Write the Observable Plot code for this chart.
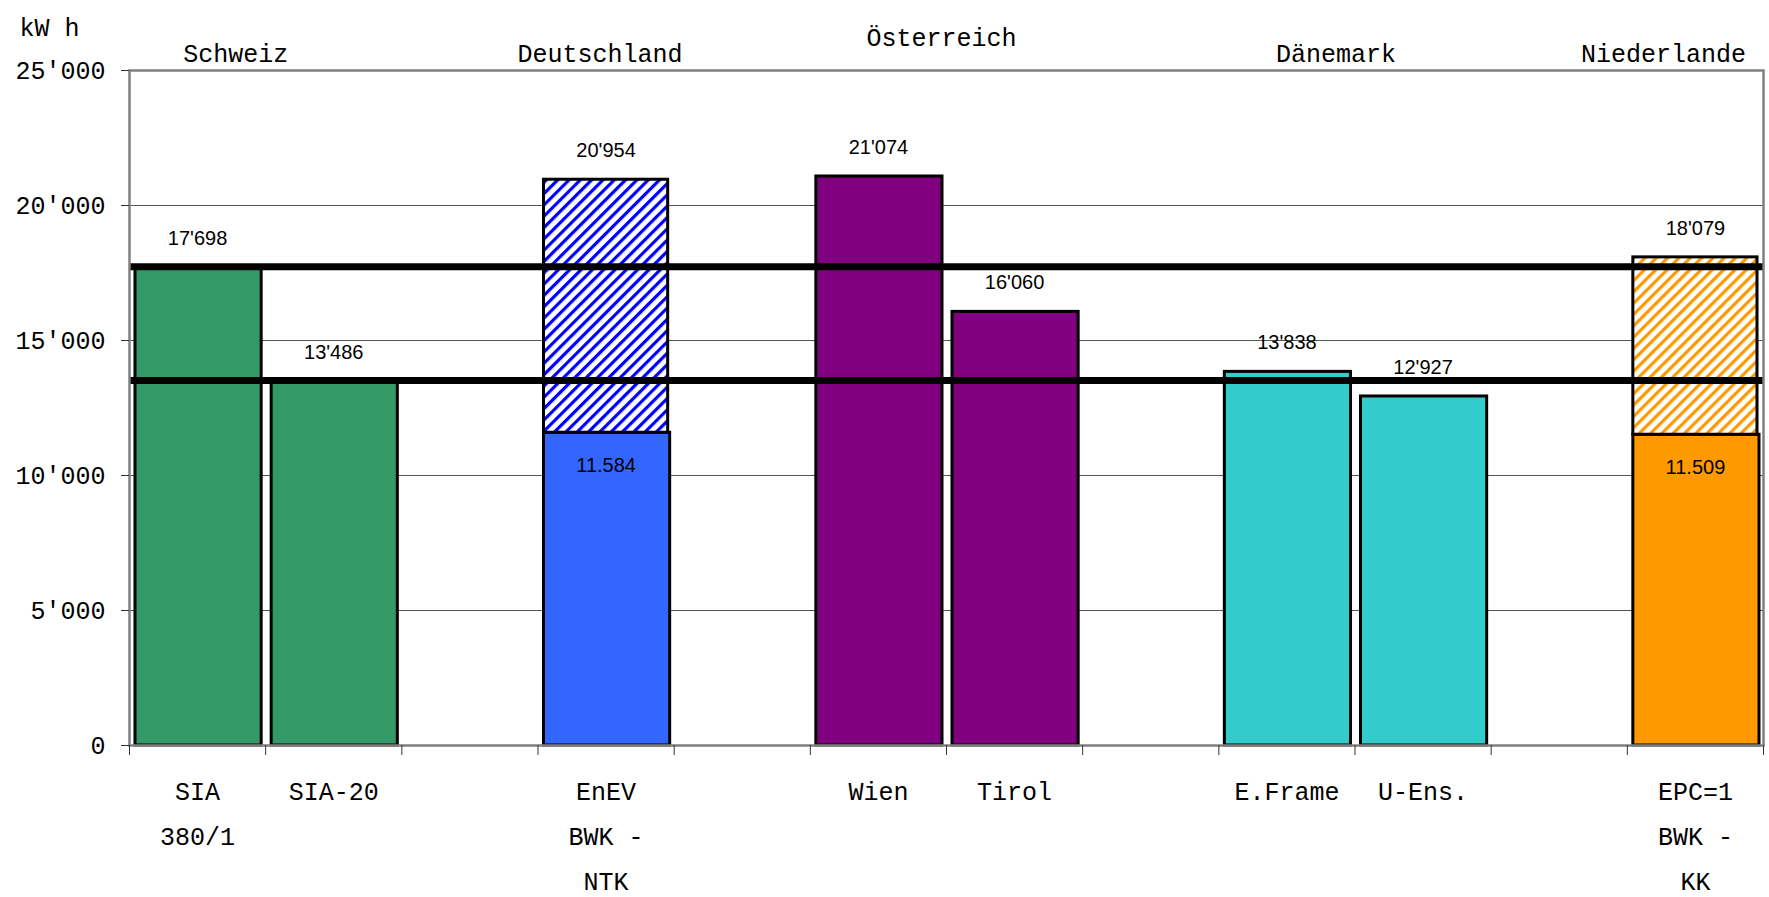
<!DOCTYPE html>
<html><head><meta charset="utf-8">
<script src="https://cdn.jsdelivr.net/npm/d3@7"></script>
<script src="https://cdn.jsdelivr.net/npm/@observablehq/plot@0.6"></script>
<style>html,body{margin:0;padding:0;background:#fff;overflow:hidden;}</style>
</head><body><div id="chart"></div>
<script>
// ---- data ----
const categories = ["SIA\n380/1", "SIA-20", "", "EnEV\nBWK -\nNTK", "", "Wien", "Tirol", "", "E.Frame", "U-Ens.", "", "EPC=1\nBWK -\nKK"];
const countryOf  = ["Schweiz", "Schweiz", null, "Deutschland", null, "Österreich", "Österreich", null, "Dänemark", "Dänemark", null, "Niederlande"];
const totals     = [17698, 13486, null, 20954, null, 21074, 16060, null, 13838, 12927, null, 18079];
const solidParts = [17698, 13486, null, 11584, null, 21074, 16060, null, 13838, 12927, null, 11509];
const countries  = ["Schweiz", "Deutschland", "Österreich", "Dänemark", "Niederlande"];
const referenceValues = [17698, 13486];
const yTicks = [0, 5000, 10000, 15000, 20000, 25000];
const yUnit = "kW h";

// ---- styles ----
const countryColors = ["#339966", "#3366FF", "#800080", "#33CCCC", "#FF9900"];
const hatchColors = {"Deutschland": "#0000FF", "Niederlande": "#FF9900"};
const countryDx = {"Schweiz": -30, "Deutschland": -6, "Österreich": -5, "Dänemark": -19, "Niederlande": -32};
const countryDy = {"Schweiz": -17, "Deutschland": -17, "Österreich": -33, "Dänemark": -17, "Niederlande": -17};
const mono = "'Liberation Mono', 'DejaVu Sans Mono', monospace";
const sans = "'Liberation Sans', Arial, sans-serif";

const fmtApos = d3.formatLocale({decimal: ".", thousands: "'", grouping: [3], currency: ["", ""]}).format(",d");
const fmtDot = d3.formatLocale({decimal: ",", thousands: ".", grouping: [3], currency: ["", ""]}).format(",d");

const rows = categories.map((cat, i) => ({i, cat, country: countryOf[i], total: totals[i], solid: solidParts[i]}))
  .filter(d => d.total != null);
const hatched = rows.filter(d => d.total > d.solid);

const groups = countries.map(c => {
  const idx = rows.filter(d => d.country === c).map(d => d.i);
  return {country: c, center: (d3.min(idx) + d3.max(idx) + 1) / 2};
});

const hatchMarks = hatched.map(d => Plot.rectY([d], {
  x1: r => r.i, x2: r => r.i + 1, y1: "solid", y2: "total",
  fill: `url(#hatch-${countries.indexOf(d.country)})`,
  stroke: "black", strokeWidth: 3, insetLeft: 6, insetRight: 6
}));

const countryMarks = groups.map(g => Plot.text([g], {
  x: "center", y: () => 25000, text: "country",
  dx: countryDx[g.country], dy: countryDy[g.country],
  fontFamily: mono, fontSize: 25, fill: "black"
}));

const chart = Plot.plot({
  width: 1769, height: 897,
  marginLeft: 129, marginRight: 6, marginTop: 70, marginBottom: 152,
  style: {background: "white", color: "black", overflow: "visible"},
  x: {domain: [0, categories.length], axis: null},
  y: {domain: [0, 25000], axis: null},
  color: {domain: countries, range: countryColors},
  marks: [
    Plot.gridY(yTicks.filter(v => v > 0 && v < 25000), {stroke: "#555", strokeOpacity: 1, strokeWidth: 1}),
    Plot.rectY(rows, {
      x1: d => d.i, x2: d => d.i + 1, y1: 0, y2: "solid",
      fill: "country", stroke: "black", strokeWidth: 3, insetLeft: 6, insetRight: 4
    }),
    ...hatchMarks,
    Plot.ruleY(referenceValues, {stroke: "black", strokeWidth: 7, dy: -1}),
    Plot.frame({stroke: "#808080", strokeWidth: 2.5}),
    Plot.axisX({ticks: d3.range(categories.length + 1), tickSize: 10, tickFormat: () => "", stroke: "#333", label: null}),
    Plot.axisY({ticks: yTicks, tickSize: 8, tickPadding: 16, tickFormat: fmtApos, stroke: "#333",
      fontFamily: mono, fontSize: 25, fill: "black", label: null}),
    Plot.text(rows, {x: d => d.i + 0.5, y: () => 0, text: "cat", lineAnchor: "top", dy: 23, lineHeight: 1.8,
      fontFamily: mono, fontSize: 25, fill: "black"}),
    Plot.text(rows, {x: d => d.i + 0.5, y: "total", text: d => fmtApos(d.total), dy: -29,
      fontFamily: sans, fontSize: 20, fill: "black"}),
    Plot.text(hatched, {x: d => d.i + 0.5, y: "solid", text: d => fmtDot(d.solid), dy: 33,
      fontFamily: sans, fontSize: 20, fill: "black"}),
    ...countryMarks,
    Plot.text([yUnit], {frameAnchor: "top-left", text: d => d, dx: -110, dy: -52, textAnchor: "start",
      fontFamily: mono, fontSize: 25, fill: "black"})
  ]
});

// hatch patterns
const defs = d3.select(chart).insert("defs", ":first-child");
countries.forEach((c, k) => {
  const col = hatchColors[c];
  if (!col) return;
  const p = defs.append("pattern").attr("id", `hatch-${k}`).attr("patternUnits", "userSpaceOnUse")
    .attr("width", 8).attr("height", 8).attr("patternTransform", "rotate(45)");
  p.append("rect").attr("width", 8).attr("height", 8).attr("fill", "white");
  p.append("rect").attr("width", 3.2).attr("height", 8).attr("fill", col);
});

document.getElementById("chart").appendChild(chart);
</script>
</body></html>
